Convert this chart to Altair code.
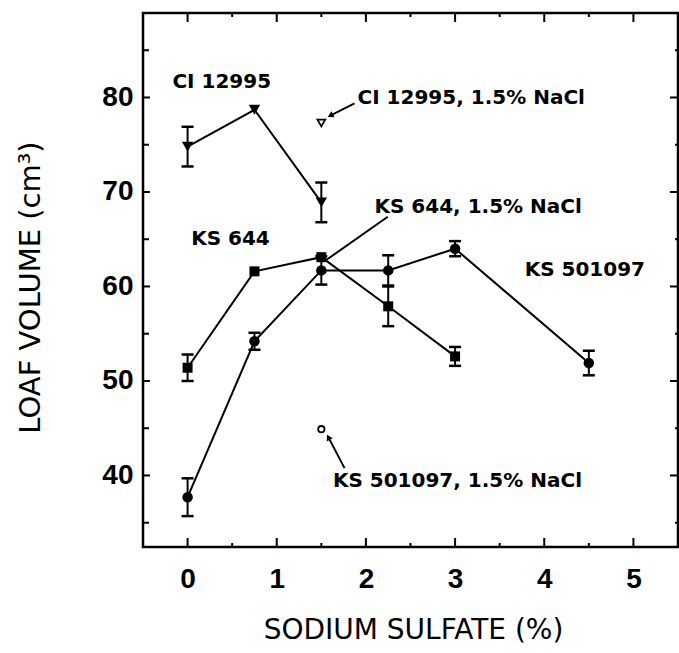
import altair as alt
import pandas as pd

# ---------------- data ----------------
ci_x = [0, 0.75, 1.5]
ci_y = [74.8, 78.7, 68.9]
ci_err = [2.1, 0.0, 2.1]

ks644_x = [0, 0.75, 1.5, 2.25, 3]
ks644_y = [51.4, 61.6, 63.1, 57.9, 52.6]
ks644_err = [1.4, 0.0, 0.0, 2.1, 1.0]

ks501_x = [0, 0.75, 1.5, 2.25, 3, 4.5]
ks501_y = [37.7, 54.2, 61.7, 61.7, 64.0, 51.9]
ks501_err = [2.0, 0.9, 1.5, 1.6, 0.8, 1.3]

# single NaCl points (open symbols)
nacl_x = [1.5, 1.5]
nacl_y = [77.3, 44.9]
nacl_shape = ["triangle-down", "circle"]

# annotation labels (data coordinates)
label_text = ["CI 12995", "CI 12995, 1.5% NaCl", "KS 644", "KS 644, 1.5% NaCl",
              "KS 501097", "KS 501097, 1.5% NaCl"]
label_x = [-0.17, 1.906, 0.04, 2.096, 3.78, 1.63]
label_y = [81.65, 79.9, 65.0, 68.4, 61.75, 39.4]

# pointer lines (start at label, end at point)
ptr_x1 = [1.872, 2.245, 1.760]
ptr_y1 = [79.37, 67.38, 40.78]
ptr_x2 = [1.611, 1.555, 1.584]
ptr_y2 = [78.13, 62.80, 43.95]
arrow_x = [1.611, 1.584]
arrow_y = [78.13, 43.95]
arrow_angle = [243, 332]

x_major = [0, 1, 2, 3, 4, 5]
x_minor = [0.5, 1.5, 2.5, 3.5, 4.5]
y_major = [40, 50, 60, 70, 80]
y_minor = [35, 45, 55, 65, 75, 85]

# ---------------- tables ----------------
def series(name, xs, ys, es):
    return pd.DataFrame({"series": name, "x": xs, "y": ys, "err": es})

df = pd.concat([series("CI 12995", ci_x, ci_y, ci_err),
                series("KS 644", ks644_x, ks644_y, ks644_err),
                series("KS 501097", ks501_x, ks501_y, ks501_err)], ignore_index=True)
df["lo"] = df["y"] - df["err"]
df["hi"] = df["y"] + df["err"]
eb = df[df["err"] > 0]

nacl = pd.DataFrame({"x": nacl_x, "y": nacl_y, "shape": nacl_shape})
labels = pd.DataFrame({"x": label_x, "y": label_y, "text": label_text})
ptrs = pd.DataFrame({"x": ptr_x1, "y": ptr_y1, "x2": ptr_x2, "y2": ptr_y2})
arrows = pd.DataFrame({"x": arrow_x, "y": arrow_y, "angle": arrow_angle})

W, H = 535, 534
xs = alt.Scale(domain=[-0.5, 5.5], nice=False, zero=False)
ys = alt.Scale(domain=[32.43, 88.94], nice=False, zero=False)

def X(f="x", axis=alt.Undefined):
    return alt.X(f, type="quantitative", scale=xs, axis=axis)

def Y(f="y", axis=alt.Undefined):
    return alt.Y(f, type="quantitative", scale=ys, axis=axis)

x_axis = alt.Axis(values=x_major, format="d", ticks=False, domain=False, grid=False,
                  labelFont="Liberation Sans", labelFontWeight="bold", labelFontSize=28,
                  labelColor="black", labelPadding=18, labelFlush=False,
                  title="SODIUM SULFATE (%)", titleFont="DejaVu Sans",
                  titleFontWeight="normal", titleFontSize=28, titleColor="black",
                  titleX=270, titleY=83, titleAlign="center", titleBaseline="middle")
y_axis = alt.Axis(values=y_major, format="d", ticks=False, domain=False, grid=False,
                  labelFont="Liberation Sans", labelFontWeight="bold", labelFontSize=28,
                  labelColor="black", labelPadding=10, labelFlush=False,
                  title="LOAF VOLUME (cm³)", titleFont="DejaVu Sans",
                  titleFontWeight="normal", titleFontSize=29, titleColor="black",
                  titleX=-113, titleY=274, titleAlign="center", titleBaseline="middle",
                  titleAngle=270)

lines = alt.Chart(df).mark_line(color="black", strokeWidth=2).encode(
    x=X("x", x_axis), y=Y("y", y_axis), detail="series:N", order="x:Q")

bars = alt.Chart(eb).mark_rule(color="black", strokeWidth=2).encode(
    x=X("x"), y=Y("lo"), y2="hi")
caps_lo = alt.Chart(eb).mark_tick(color="black", orient="horizontal", size=12,
                                  thickness=2.5, opacity=1).encode(x=X("x"), y=Y("lo"))
caps_hi = alt.Chart(eb).mark_tick(color="black", orient="horizontal", size=12,
                                  thickness=2.5, opacity=1).encode(x=X("x"), y=Y("hi"))

tri = alt.Chart(df[df["series"] == "CI 12995"]).mark_point(
    shape="triangle-down", filled=True, color="black", size=130, opacity=1).encode(x=X("x"), y=Y("y"))
sq = alt.Chart(df[df["series"] == "KS 644"]).mark_point(
    shape="square", filled=True, color="black", size=100, opacity=1).encode(x=X("x"), y=Y("y"))
circ = alt.Chart(df[df["series"] == "KS 501097"]).mark_point(
    shape="circle", filled=True, color="black", size=110, opacity=1).encode(x=X("x"), y=Y("y"))

open_tri = alt.Chart(nacl[nacl["shape"] == "triangle-down"]).mark_point(
    shape="triangle-down", filled=False, color="black", size=60, strokeWidth=1.8,
    opacity=1).encode(x=X("x"), y=Y("y"))
open_circ = alt.Chart(nacl[nacl["shape"] == "circle"]).mark_point(
    shape="circle", filled=False, color="black", size=40, strokeWidth=1.8,
    opacity=1).encode(x=X("x"), y=Y("y"))

ptr_layer = alt.Chart(ptrs).mark_rule(color="black", strokeWidth=2).encode(
    x=X("x"), y=Y("y"), x2="x2", y2="y2")
arrow_layer = alt.Chart(arrows).mark_point(
    shape="triangle", filled=True, color="black", size=45, opacity=1).encode(
    x=X("x"), y=Y("y"), angle=alt.Angle("angle:Q", scale=None))

text_layer = alt.Chart(labels).mark_text(
    align="left", baseline="middle", font="DejaVu Sans", fontWeight="bold",
    fontSize=20, color="black").encode(x=X("x"), y=Y("y"), text="text:N")

# inward ticks on all four sides
xt_major = pd.DataFrame({"x": x_major})
xt_minor = pd.DataFrame({"x": x_minor})
yt_major = pd.DataFrame({"y": y_major})
yt_minor = pd.DataFrame({"y": y_minor})

def xtick(d, y0, y1):
    return alt.Chart(d).mark_rule(color="black", strokeWidth=2).encode(
        x=X("x"), y=alt.value(y0), y2=alt.value(y1))

def ytick(d, x0, x1):
    return alt.Chart(d).mark_rule(color="black", strokeWidth=2).encode(
        y=Y("y"), x=alt.value(x0), x2=alt.value(x1))

ticks = [
    xtick(xt_major, H, H - 9), xtick(xt_minor, H, H - 4),
    xtick(xt_major, 0, 9), xtick(xt_minor, 0, 4),
    ytick(yt_major, 0, 7), ytick(yt_minor, 0, 6),
    ytick(yt_major, W, W - 8), ytick(yt_minor, W, W - 3),
]

chart = alt.layer(
    lines, *ticks, bars, caps_lo, caps_hi, tri, sq, circ, open_tri, open_circ,
    ptr_layer, arrow_layer, text_layer
).properties(
    width=W, height=H, background="white",
    autosize=alt.AutoSizeParams(type="none"),
    padding={"left": 143, "top": 13, "right": 1, "bottom": 106},
).configure_view(stroke="black", strokeWidth=2.5)

chart.save("out.html", embed_options={"renderer": "svg", "actions": False})
